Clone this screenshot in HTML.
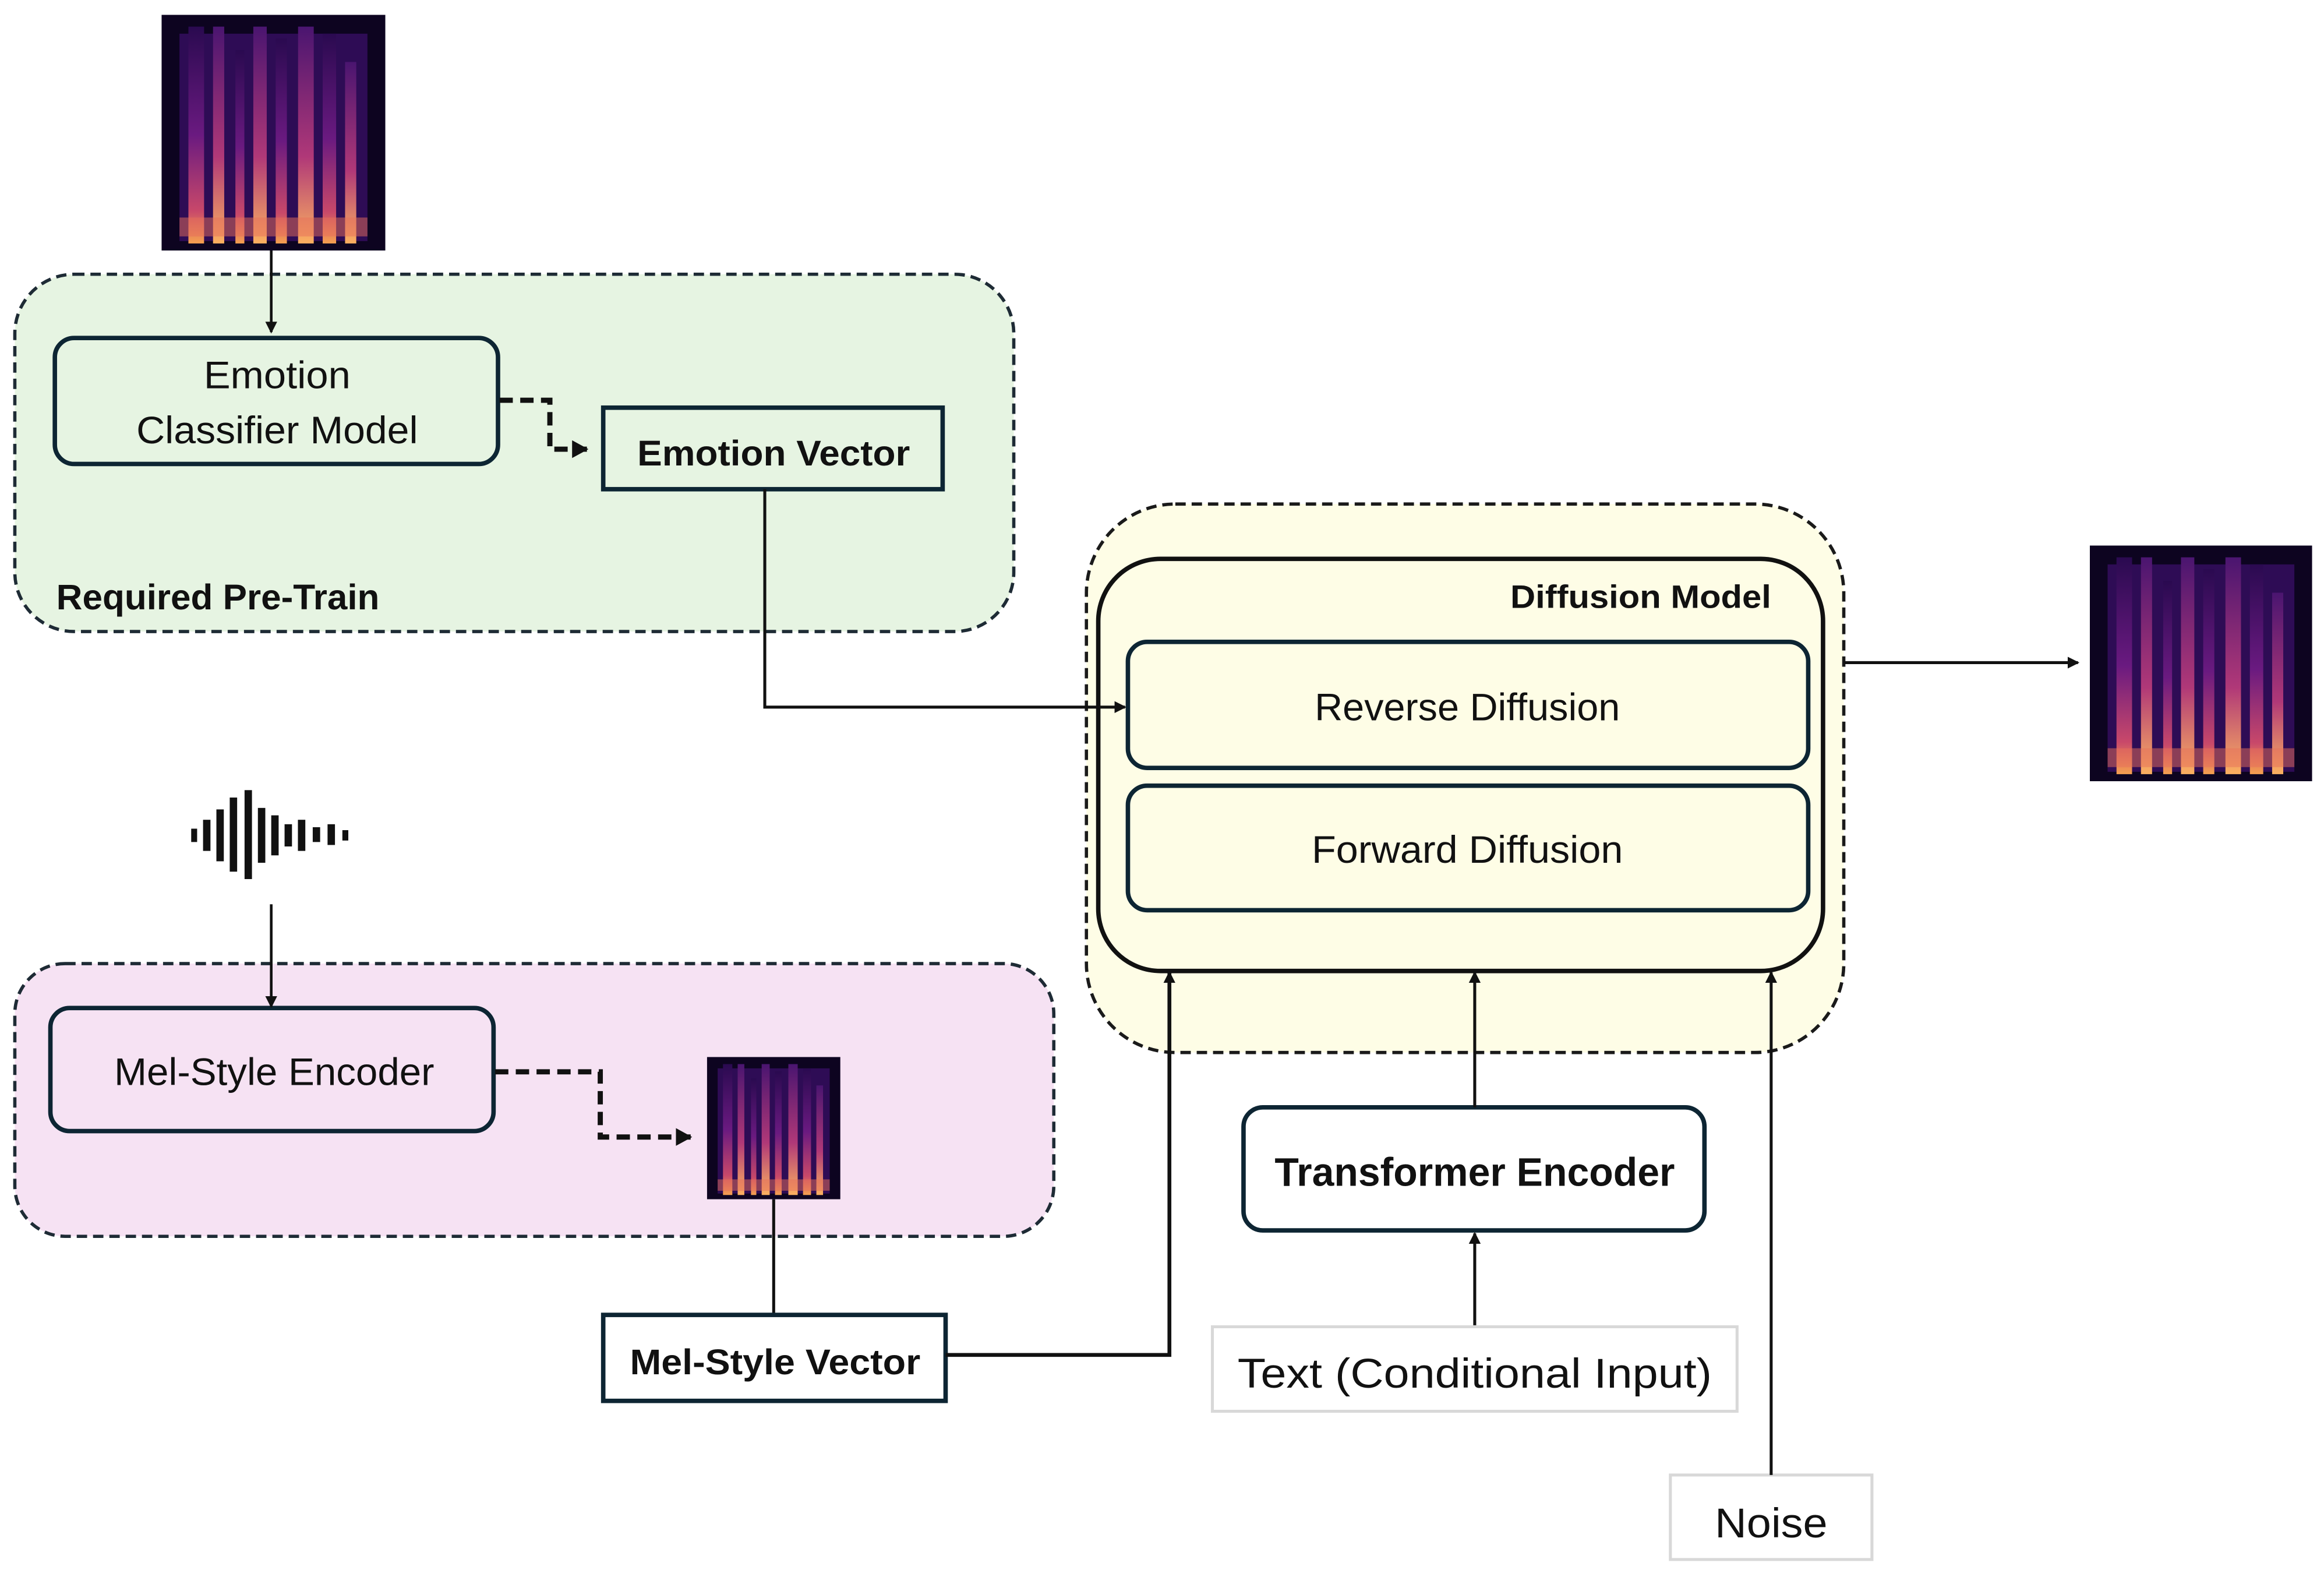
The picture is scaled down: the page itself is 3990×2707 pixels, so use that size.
<!DOCTYPE html>
<html><head><meta charset="utf-8"><style>
html,body{margin:0;padding:0;background:#fff;}
svg{display:block;}
text{font-family:"Liberation Sans",sans-serif;fill:#111;}
.b{font-weight:bold;}
</style></head><body>
<svg width="3990" height="2707" viewBox="0 0 1568 1063.8" xmlns="http://www.w3.org/2000/svg">
<defs>
<linearGradient id="sg" x1="0" y1="0" x2="0" y2="1">
<stop offset="0" stop-color="#2a0a50"/><stop offset="0.5" stop-color="#6a1a80"/><stop offset="0.85" stop-color="#c8486a"/><stop offset="1" stop-color="#f5a050"/>
</linearGradient>
<linearGradient id="sg2" x1="0" y1="0" x2="0" y2="1">
<stop offset="0" stop-color="#4a1570"/><stop offset="0.6" stop-color="#b03878"/><stop offset="1" stop-color="#fbb060"/>
</linearGradient>
<symbol id="spec" viewBox="0 0 100 100" preserveAspectRatio="none">
<rect width="100" height="100" fill="#0d0420"/>
<rect x="8" y="8" width="84" height="88" fill="#2e0c55"/>
<rect x="12" y="5" width="7" height="92" fill="url(#sg)"/>
<rect x="23" y="5" width="5" height="92" fill="url(#sg2)"/>
<rect x="33" y="15" width="4" height="82" fill="url(#sg)"/>
<rect x="41" y="5" width="6" height="92" fill="url(#sg2)"/>
<rect x="51" y="10" width="5" height="87" fill="url(#sg)"/>
<rect x="61" y="5" width="7" height="92" fill="url(#sg2)"/>
<rect x="72" y="8" width="6" height="89" fill="url(#sg)"/>
<rect x="82" y="20" width="5" height="77" fill="url(#sg2)"/>
<rect x="8" y="86" width="84" height="8" fill="#e8705a" opacity="0.5"/>
</symbol>
<marker id="ah" markerWidth="8" markerHeight="8" refX="7" refY="4" orient="auto" markerUnits="userSpaceOnUse"><path d="M0,0 L8,4 L0,8 z" fill="#111"/></marker>
<marker id="ah2" markerWidth="12" markerHeight="12" refX="10" refY="6" orient="auto" markerUnits="userSpaceOnUse"><path d="M0,0 L11,6 L0,12 z" fill="#111"/></marker>
</defs>

<use href="#spec" x="109" y="10" width="151" height="159"/>

<rect x="10" y="185" width="674" height="241" rx="40" fill="#e6f4e2" stroke="#1e2b35" stroke-width="2.2" stroke-dasharray="7,4"/>
<rect x="37" y="228" width="299" height="85" rx="13" fill="#e6f4e2" stroke="#0d2533" stroke-width="3"/>
<text x="187" y="262" font-size="26" text-anchor="middle" textLength="99" lengthAdjust="spacingAndGlyphs">Emotion</text>
<text x="187" y="299" font-size="26" text-anchor="middle" textLength="190" lengthAdjust="spacingAndGlyphs">Classifier Model</text>
<polyline points="337,270 371,270 371,303 396,303" fill="none" stroke="#111" stroke-width="3.5" stroke-dasharray="9,5" marker-end="url(#ah2)"/>
<rect x="407" y="275" width="229" height="55" fill="#e6f4e2" stroke="#0d2533" stroke-width="3"/>
<text x="522" y="314" font-size="24" class="b" text-anchor="middle" textLength="184" lengthAdjust="spacingAndGlyphs">Emotion Vector</text>
<text x="38" y="411" font-size="24" class="b" textLength="218" lengthAdjust="spacingAndGlyphs">Required Pre-Train</text>

<rect x="733" y="340" width="511" height="370" rx="60" fill="#fefde6" stroke="#1a1a1a" stroke-width="2.2" stroke-dasharray="7,4"/>
<rect x="741" y="377" width="489" height="278" rx="42" fill="#fefde6" stroke="#111" stroke-width="3"/>
<text x="1195" y="410" font-size="22" class="b" text-anchor="end" textLength="176" lengthAdjust="spacingAndGlyphs">Diffusion Model</text>
<rect x="761" y="433" width="459" height="85" rx="13" fill="#fefde6" stroke="#0d2533" stroke-width="3"/>
<text x="990" y="486" font-size="26" text-anchor="middle" textLength="206" lengthAdjust="spacingAndGlyphs">Reverse Diffusion</text>
<rect x="761" y="530" width="459" height="84" rx="13" fill="#fefde6" stroke="#0d2533" stroke-width="3"/>
<text x="990" y="582" font-size="26" text-anchor="middle" textLength="210" lengthAdjust="spacingAndGlyphs">Forward Diffusion</text>
<line x1="1244" y1="447" x2="1402" y2="447" stroke="#111" stroke-width="2" marker-end="url(#ah)"/>
<use href="#spec" x="1410" y="368" width="150" height="159"/>

<g fill="#111">
<rect x="129" y="559" width="4" height="9"/>
<rect x="137" y="553" width="5" height="21"/>
<rect x="146" y="546" width="5" height="35"/>
<rect x="155" y="538" width="5" height="50"/>
<rect x="165" y="533" width="5" height="60"/>
<rect x="174" y="545" width="5" height="37"/>
<rect x="183" y="550" width="5" height="27"/>
<rect x="192" y="556" width="5" height="15"/>
<rect x="201" y="553" width="5" height="21"/>
<rect x="211" y="558" width="5" height="10"/>
<rect x="221" y="556" width="5" height="14"/>
<rect x="231" y="560" width="4" height="7"/>
</g>

<rect x="10" y="650" width="701" height="184" rx="34" fill="#f6e2f3" stroke="#1e2b35" stroke-width="2.2" stroke-dasharray="7,4"/>
<rect x="34" y="680" width="299" height="83" rx="13" fill="#f6e2f3" stroke="#0d2533" stroke-width="3"/>
<text x="185" y="732" font-size="26" text-anchor="middle" textLength="216" lengthAdjust="spacingAndGlyphs">Mel-Style Encoder</text>
<polyline points="334,723 405,723 405,767 466,767" fill="none" stroke="#111" stroke-width="3.5" stroke-dasharray="9,5" marker-end="url(#ah2)"/>
<use href="#spec" x="477" y="713" width="90" height="96"/>
<line x1="522" y1="809" x2="522" y2="887" stroke="#111" stroke-width="2"/>
<rect x="407" y="887" width="231" height="58" fill="#fff" stroke="#0d2533" stroke-width="3"/>
<text x="523" y="927" font-size="24" class="b" text-anchor="middle" textLength="196" lengthAdjust="spacingAndGlyphs">Mel-Style Vector</text>
<polyline points="638,914 789,914 789,656" fill="none" stroke="#111" stroke-width="2.6" marker-end="url(#ah)"/>

<rect x="839" y="747" width="311" height="83" rx="13" fill="#fff" stroke="#0d2533" stroke-width="3"/>
<text x="995" y="800" font-size="27" class="b" text-anchor="middle" textLength="270" lengthAdjust="spacingAndGlyphs">Transformer Encoder</text>
<line x1="995" y1="747" x2="995" y2="656" stroke="#111" stroke-width="2" marker-end="url(#ah)"/>
<rect x="818" y="895" width="354" height="57" fill="#fff" stroke="#d8d8d8" stroke-width="2"/>
<text x="995" y="936" font-size="28" text-anchor="middle" textLength="320" lengthAdjust="spacingAndGlyphs">Text (Conditional Input)</text>
<line x1="995" y1="894" x2="995" y2="832" stroke="#111" stroke-width="2" marker-end="url(#ah)"/>
<rect x="1127" y="995" width="136" height="57" fill="#fff" stroke="#d8d8d8" stroke-width="2"/>
<text x="1195" y="1037" font-size="28" text-anchor="middle" textLength="76" lengthAdjust="spacingAndGlyphs">Noise</text>
<line x1="1195" y1="995" x2="1195" y2="656" stroke="#111" stroke-width="2" marker-end="url(#ah)"/>

<!-- connectors drawn on top -->
<line x1="183" y1="169" x2="183" y2="224" stroke="#111" stroke-width="1.8" marker-end="url(#ah)"/>
<polyline points="516,330 516,477 759,477" fill="none" stroke="#111" stroke-width="2" marker-end="url(#ah)"/>
<line x1="183" y1="610" x2="183" y2="679" stroke="#111" stroke-width="1.8" marker-end="url(#ah)"/>
</svg>
</body></html>
